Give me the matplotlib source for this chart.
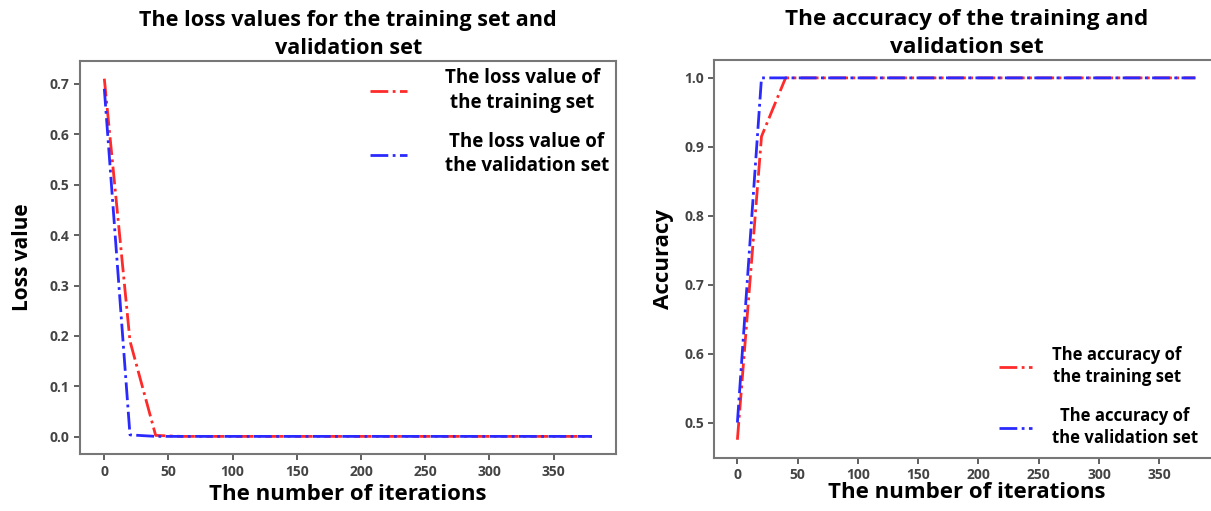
import matplotlib.pyplot as plt

plt.rcParams['font.family'] = ['Open Sans', 'DejaVu Sans']

iterations = list(range(0, 381, 20))

loss_train = [0.71, 0.19, 0.003] + [0.001] * 17
loss_val = [0.69, 0.004] + [0.001] * 18

acc_train = [0.475, 0.915] + [1.0] * 18
acc_val = [0.50] + [1.0] * 19

fig = plt.figure(figsize=(12.11, 5.11), dpi=100)
ax1 = fig.add_axes([0.066, 0.111, 0.443, 0.770])
ax2 = fig.add_axes([0.590, 0.104, 0.416, 0.779])

red = '#ff2a2a'
blue = '#2a2aff'


def style(ax):
    for sp in ax.spines.values():
        sp.set_color('#777777')
        sp.set_linewidth(1.5)
    ax.tick_params(colors='#444444', labelsize=10, width=1.2, length=4)
    for lab in ax.get_xticklabels() + ax.get_yticklabels():
        lab.set_fontweight('bold')


# loss
ax1.plot(iterations, loss_train, '-.', color=red, lw=2,
         label='The loss value of\nthe training set')
ax1.plot(iterations, loss_val, '-.', color=blue, lw=2,
         label='The loss value of\nthe validation set')
ax1.set_title('The loss values for the training set and\nvalidation set',
              fontsize=15.6, fontweight='bold', pad=5, linespacing=1.4)
ax1.set_xlabel('The number of iterations', fontsize=16, fontweight='bold', labelpad=4)
ax1.set_ylabel('Loss value', fontsize=15, fontweight='bold', labelpad=12)
ax1.set_xticks(range(0, 351, 50))
style(ax1)
leg = ax1.legend(loc='upper right', frameon=False, handlelength=2.0,
                 labelspacing=1.0, prop={'size': 13.5, 'weight': 'bold'},
                 borderaxespad=0.0, handletextpad=2.0)
for t in leg.get_texts():
    t.set_multialignment('center')
    t.set_linespacing(1.3)

# accuracy
ax2.plot(iterations, acc_train, '-.', color=red, lw=2,
         label='The accuracy of\nthe training set')
ax2.plot(iterations, acc_val, '-.', color=blue, lw=2,
         label='The accuracy of\nthe validation set')
ax2.set_title('The accuracy of the training and\nvalidation set',
              fontsize=16.2, fontweight='bold', pad=5, linespacing=1.4)
ax2.set_xlabel('The number of iterations', fontsize=16, fontweight='bold', labelpad=0)
ax2.set_ylabel('Accuracy', fontsize=16, fontweight='bold', labelpad=7)
ax2.set_xticks(range(0, 351, 50))
style(ax2)
leg2 = ax2.legend(loc='lower right', frameon=False, handlelength=2.0,
                  labelspacing=1.25, prop={'size': 12, 'weight': 'bold'},
                  bbox_to_anchor=(0.99, -0.01), handletextpad=1.2)
for t in leg2.get_texts():
    t.set_multialignment('center')
    t.set_linespacing(1.3)

fig.savefig('out.png', dpi=100)
